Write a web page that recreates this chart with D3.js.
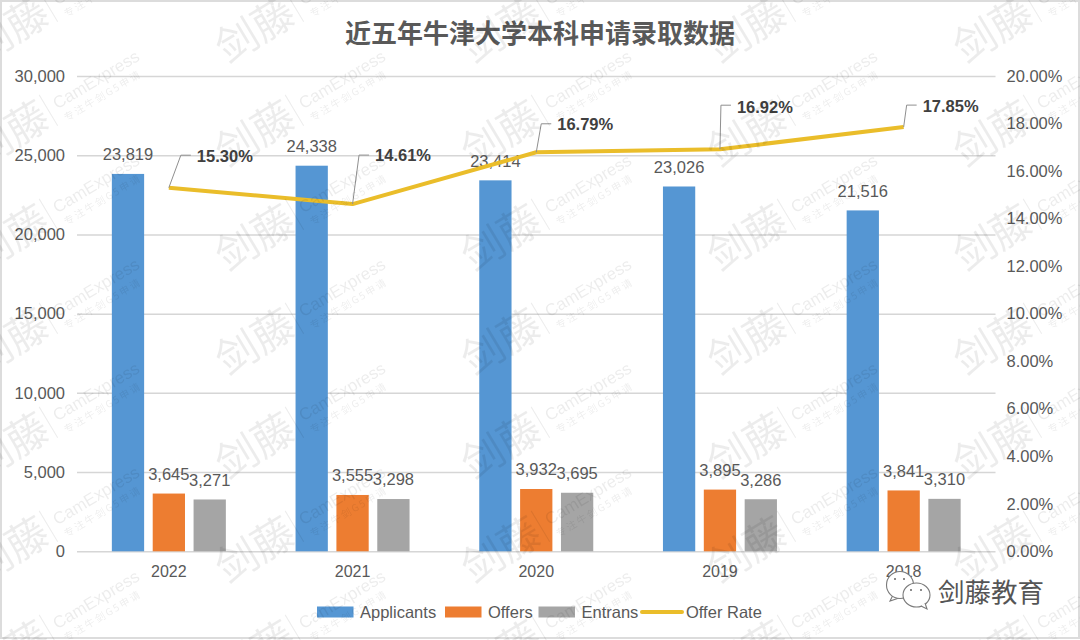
<!DOCTYPE html>
<html lang="zh">
<head>
<meta charset="utf-8">
<title>近五年牛津大学本科申请录取数据</title>
<script src="https://cdn.jsdelivr.net/npm/d3@7"></script>
<style>
html,body{margin:0;padding:0;background:#fff;}
svg{display:block;}
text{font-family:"Liberation Sans",Arial,sans-serif;}
.cjk{font-family:"Noto Sans CJK SC","Noto Sans",sans-serif;}
</style>
</head>
<body>
<svg id="chart" width="1080" height="640"></svg>
<script>
const years = ["2022","2021","2020","2019","2018"];
const applicants = [23819,24338,23414,23026,21516];
const offers = [3645,3555,3932,3895,3841];
const entrans = [3271,3298,3695,3286,3310];
const offerRate = [15.30,14.61,16.79,16.92,17.85];
const countTicks = [0,5000,10000,15000,20000,25000,30000];
const rateTicks = [0,2,4,6,8,10,12,14,16,18,20];
const seriesNames = ["Applicants","Offers","Entrans"];
const lineName = "Offer Rate";
const titleText = "近五年牛津大学本科申请录取数据";

// presentation only
const seriesColors = ["#5596d3","#ed7d31","#a5a5a5"];
const lineColor = "#eabd2a";
const textColor = "#595959";
const plot = {left:77,right:995.5,top:76,bottom:551.3};
const leaderElbow = [[12,-32.5],[6.5,-49],[5,-28.5],[1,-44],[3,-22]];
const rateLabelDy = [0.5,-0.5,0,2,1];

const svg = d3.select("#chart");
svg.append("rect").attr("x",1).attr("y",1).attr("width",1078).attr("height",637)
  .attr("fill","#fff").attr("stroke","#dcdcdc").attr("stroke-width",2);

const x = d3.scaleBand().domain(years).range([plot.left,plot.right]);
const xInner = d3.scaleBand().domain(seriesNames).range([-57,57]).paddingInner(0.21);
const y = d3.scaleLinear().domain([0,30000]).range([plot.bottom,plot.top]);
const yRate = d3.scaleLinear().domain([0,20]).range([plot.bottom,plot.top]);
const cx = d => x(d)+x.bandwidth()/2;

svg.append("text").attr("class","cjk").attr("x",540).attr("y",34).attr("dy",".36em")
  .attr("text-anchor","middle").attr("font-size",26).attr("font-weight",700)
  .attr("fill",textColor).text(titleText);

// left axis + gridlines
const gLeft = svg.append("g").attr("transform",`translate(${plot.left},0)`)
  .call(d3.axisLeft(y).tickValues(countTicks).tickFormat(d3.format(","))
    .tickSizeInner(-(plot.right-plot.left)).tickSizeOuter(0).tickPadding(12));
gLeft.select(".domain").remove();
gLeft.selectAll("line").attr("stroke","#d6d6d6").attr("stroke-width",1.5);
gLeft.selectAll("text").attr("font-size",16.5).attr("fill",textColor);

// right axis
const gRight = svg.append("g").attr("transform",`translate(${plot.right},0)`)
  .call(d3.axisRight(yRate).tickValues(rateTicks).tickFormat(d=>d.toFixed(2)+"%")
    .tickSize(0).tickPadding(11));
gRight.select(".domain").remove();
gRight.selectAll("text").attr("font-size",16.5).attr("fill",textColor);

// bottom axis
const gBottom = svg.append("g").attr("transform",`translate(0,${plot.bottom})`)
  .call(d3.axisBottom(x).tickSize(0).tickPadding(14));
gBottom.select(".domain").remove();
gBottom.selectAll("text").attr("font-size",16).attr("fill",textColor);

// bars and their labels
const seriesValues = [applicants,offers,entrans];
seriesNames.forEach((name,i)=>{
  const rows = years.map((yr,j)=>({yr,v:seriesValues[i][j]}));
  svg.append("g").selectAll("rect").data(rows).join("rect")
    .attr("x",d=>cx(d.yr)+xInner(name)).attr("width",xInner.bandwidth())
    .attr("y",d=>y(d.v)).attr("height",d=>y(0)-y(d.v))
    .attr("fill",seriesColors[i]);
  svg.append("g").selectAll("text").data(rows).join("text")
    .attr("x",d=>cx(d.yr)+xInner(name)+xInner.bandwidth()/2)
    .attr("y",d=>y(d.v)-19.5).attr("dy",".36em").attr("text-anchor","middle")
    .attr("font-size",16.5).attr("fill",textColor)
    .text(d=>d3.format(",")(d.v));
});

// offer rate line
const rateRows = years.map((yr,j)=>({yr,v:offerRate[j],j}));
svg.append("path").datum(rateRows)
  .attr("fill","none").attr("stroke",lineColor).attr("stroke-width",4)
  .attr("stroke-linejoin","round")
  .attr("d",d3.line().x(d=>cx(d.yr)).y(d=>yRate(d.v)));

// leaders and rate labels
svg.append("g").selectAll("path").data(rateRows).join("path")
  .attr("fill","none").attr("stroke","#8f8f8f").attr("stroke-width",1)
  .attr("d",d=>{
    const px=cx(d.yr),py=yRate(d.v),e=leaderElbow[d.j];
    return d3.line()([[px,py],[px+e[0],py+e[1]],[px+e[0]+10,py+e[1]]]);
  });
svg.append("g").selectAll("text").data(rateRows).join("text")
  .attr("x",d=>cx(d.yr)+leaderElbow[d.j][0]+16)
  .attr("y",d=>yRate(d.v)+leaderElbow[d.j][1]+rateLabelDy[d.j]).attr("dy",".36em")
  .attr("font-size",16.5).attr("font-weight",700).attr("fill","#404040")
  .text(d=>d.v.toFixed(2)+"%");

// legend
const legendX = [317,445,538.5];
const legendY = 612;
const lg = svg.append("g");
seriesNames.forEach((name,i)=>{
  lg.append("rect").attr("x",legendX[i]).attr("y",legendY-5.5).attr("width",36.5).attr("height",11)
    .attr("fill",seriesColors[i]);
  lg.append("text").attr("x",legendX[i]+43).attr("y",legendY).attr("dy",".36em")
    .attr("font-size",16.5).attr("fill",textColor).text(name);
});
lg.append("line").attr("x1",642).attr("x2",682).attr("y1",legendY).attr("y2",legendY)
  .attr("stroke",lineColor).attr("stroke-width",4).attr("stroke-linecap","round");
lg.append("text").attr("x",686).attr("y",legendY).attr("dy",".36em")
  .attr("font-size",16.5).attr("fill",textColor).text(lineName);

// watermark tile: each copy is repeated a tile up and down so nothing is cut at the tile edge
const defs = svg.append("defs");
defs.append("filter").attr("id","soft").append("feGaussianBlur").attr("stdDeviation",0.5);
const tileH = 104, tileW = 246;
const pat = defs.append("pattern").attr("id","wm").attr("patternUnits","userSpaceOnUse")
  .attr("x",205).attr("y",-22).attr("width",tileW).attr("height",tileH);
[-tileH,0,tileH].forEach(off=>{
  const wm = pat.append("g").attr("transform",`translate(50,${52+off}) rotate(-31)`).attr("fill","#000");
  wm.append("text").attr("class","cjk").attr("text-anchor","middle").attr("y",15)
    .attr("font-size",42).attr("font-weight",400).text("剑藤");
  wm.append("line").attr("x1",46).attr("x2",46).attr("y1",-18).attr("y2",18).attr("stroke","#000").attr("stroke-width",1);
  wm.append("text").attr("x",54).attr("y",4).attr("font-size",17).text("CamExpress");
  wm.append("text").attr("class","cjk").attr("x",56).attr("y",19).attr("font-size",10).attr("letter-spacing",2).text("专注牛剑G5申请");
});
svg.append("rect").attr("width",1080).attr("height",640).attr("fill","url(#wm)")
  .attr("opacity",0.07).attr("filter","url(#soft)").attr("pointer-events","none");

// account logo
const logo = svg.append("g").attr("stroke","#7a7a7a").attr("stroke-width",1.1).attr("fill","#fff");
logo.append("path").attr("d","M893 595 L890 601 L899 598").attr("fill","none");
logo.append("ellipse").attr("cx",900).attr("cy",585).attr("rx",13.5).attr("ry",13.5);
logo.append("ellipse").attr("cx",916.5).attr("cy",595).attr("rx",13.5).attr("ry",12);
logo.append("path").attr("d","M921 606 L927 609 L925 603").attr("fill","#fff");
[[895,579],[904,579],[911,590],[921,590]].forEach(p=>{
  logo.append("circle").attr("cx",p[0]).attr("cy",p[1]).attr("r",1).attr("fill","#666").attr("stroke","none");
});
svg.append("text").attr("class","cjk").attr("x",938).attr("y",592).attr("dy",".36em")
  .attr("font-size",26.5).attr("fill","#555").attr("stroke","#fff").attr("stroke-width",2)
  .attr("paint-order","stroke").text("剑藤教育");
</script>
</body>
</html>
